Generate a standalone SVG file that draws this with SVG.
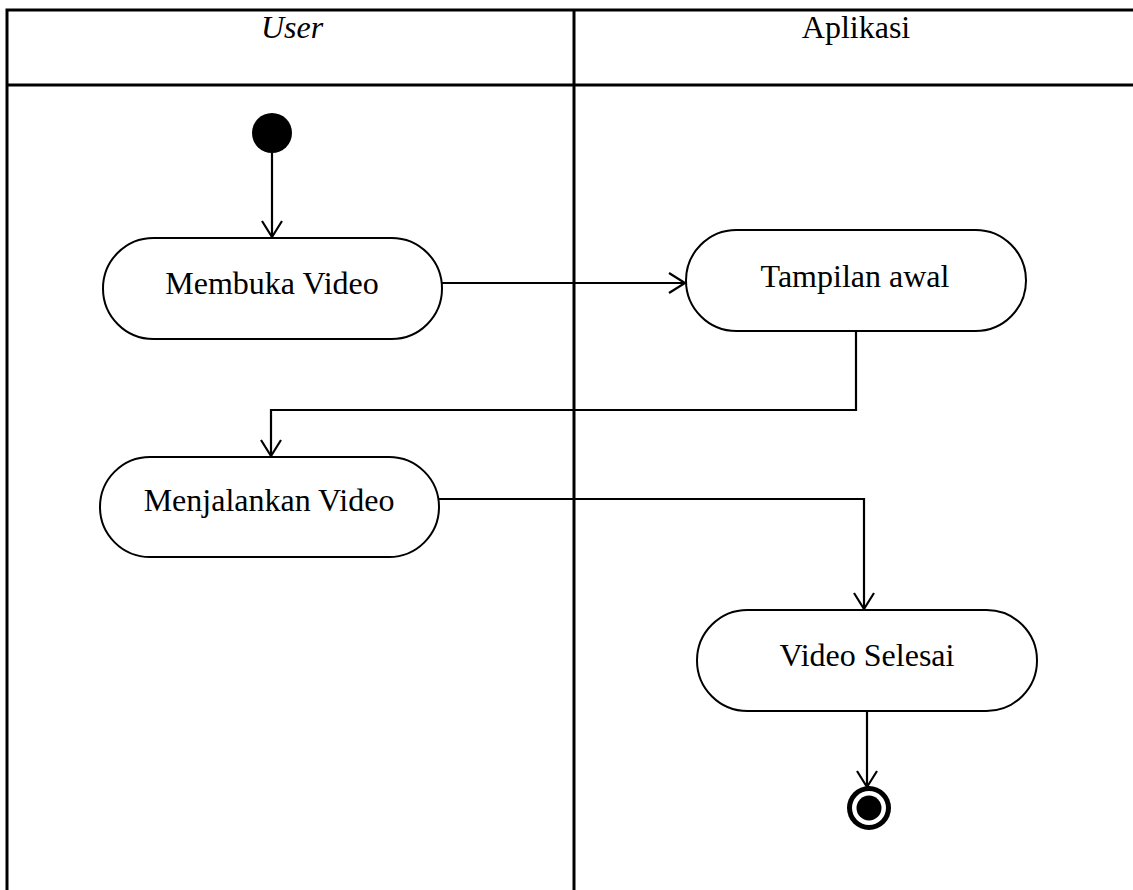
<svg xmlns="http://www.w3.org/2000/svg" width="1133" height="890" viewBox="0 0 1133 890">
<defs>
<style>
.tbl{stroke:#000;stroke-width:3;fill:none}
.node{fill:#fff;stroke:#000;stroke-width:2}
.lbl{font-family:"Liberation Serif","Times New Roman",serif;font-size:32px;fill:#000;text-anchor:middle}
.con{stroke:#000;stroke-width:2.2;fill:none;marker-end:url(#arr)}
</style>
<marker id="arr" markerUnits="userSpaceOnUse" markerWidth="24" markerHeight="24" viewBox="-18 -12 20 24" refX="0" refY="0" orient="auto">
<path d="M-16,-10 L0,0 L-16,10" fill="none" stroke="#000" stroke-width="2.2"/>
</marker>
</defs>
<rect width="1133" height="890" fill="#fff"/>
<g id="swimlanes">
<path class="tbl" d="M7,10 H1140 M7,85 H1140 M7,8.5 V890 M574,10 V890"/>
<text class="lbl" x="292" y="38" font-style="italic">User</text>
<text class="lbl" x="856" y="38">Aplikasi</text>
</g>
<g id="connectors">
<path class="con" d="M272,153 V237"/>
<path class="con" d="M442,283 H685"/>
<path class="con" d="M856,331 V410 H271 V456"/>
<path class="con" d="M439,499 H864 V609"/>
<path class="con" d="M867,711 V787"/>
</g>
<g id="start"><circle cx="272" cy="133" r="20" fill="#000"/></g>
<g id="membuka-video">
<rect class="node" x="103" y="238" width="339" height="101" rx="50.5"/>
<text class="lbl" x="272" y="294">Membuka Video</text>
</g>
<g id="tampilan-awal">
<rect class="node" x="686" y="230" width="340" height="101" rx="50.5"/>
<text class="lbl" x="855" y="287">Tampilan awal</text>
</g>
<g id="menjalankan-video">
<rect class="node" x="100" y="457" width="339" height="100" rx="50"/>
<text class="lbl" x="269" y="511">Menjalankan Video</text>
</g>
<g id="video-selesai">
<rect class="node" x="697" y="610" width="340" height="101" rx="50.5"/>
<text class="lbl" x="867" y="666">Video Selesai</text>
</g>
<g id="end">
<circle cx="869" cy="808" r="22" fill="#000"/>
<circle cx="869" cy="808" r="17" fill="#fff"/>
<circle cx="869" cy="808" r="12.5" fill="#000"/>
</g>
</svg>
